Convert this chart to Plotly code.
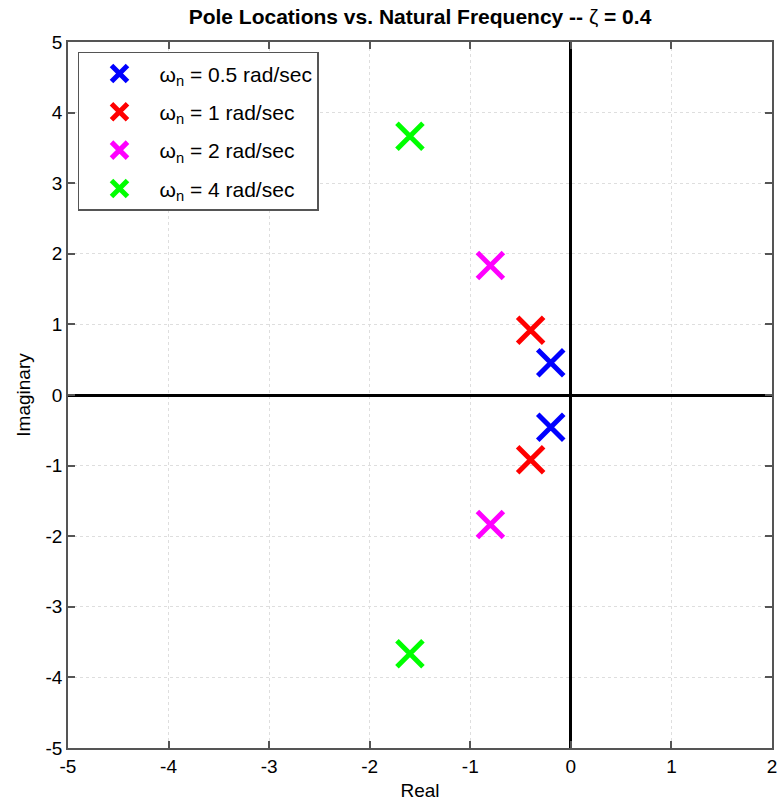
import plotly.graph_objects as go

# Data (zeta = 0.4)
wn_labels = ["0.5", "1", "2", "4"]
pole_real = [-0.2, -0.4, -0.8, -1.6]
pole_imag = [0.458, 0.917, 1.833, 3.666]
colors = ["#0000ff", "#ff0000", "#ff00ff", "#00ff00"]

x_ticks = [-5, -4, -3, -2, -1, 0, 1, 2]
x_ticklabels = ["-5", "-4", "-3", "-2", "-1", "0", "1", "2"]
y_ticks = [-5, -4, -3, -2, -1, 0, 1, 2, 3, 4, 5]
y_ticklabels = ["-5", "-4", "-3", "-2", "-1", "0", "1", "2", "3", "4", "5"]

FONT = "Liberation Sans, Arial, sans-serif"

fig = go.Figure()
for i, (lab, re, im, c) in enumerate(zip(wn_labels, pole_real, pole_imag, colors)):
    fig.add_trace(go.Scatter(
        x=[re, re], y=[im, -im],
        mode="markers",
        name=f"ω<sub>n</sub> = {lab} rad/sec",
        legendgroup=f"g{i}",
        marker=dict(symbol="x-thin", size=26, color=c,
                    line=dict(width=5, color=c)),
    ))

axis_common = dict(
    showline=True, linecolor="#555555", linewidth=1.5, mirror="ticks",
    ticks="inside", ticklen=7, tickcolor="#555555", tickwidth=1.5,
    showgrid=True, gridcolor="#dedede", griddash="dot", gridwidth=1,
    zeroline=True, zerolinecolor="#000000", zerolinewidth=3,
    tickfont=dict(size=19, color="#000000", family=FONT),
    automargin=False,
)

fig.update_xaxes(range=[-5, 2], tickvals=x_ticks, ticktext=x_ticklabels,
                 title=dict(text="Real", font=dict(size=19, color="#000"), standoff=8),
                 **axis_common)
fig.update_yaxes(range=[-5, 5], tickvals=y_ticks, ticktext=y_ticklabels,
                 title=dict(text="Imaginary", font=dict(size=19, color="#000"), standoff=10),
                 **axis_common)

fig.update_layout(
    width=781, height=802,
    margin=dict(l=68, r=9, t=42, b=54, autoexpand=False),
    paper_bgcolor="white", plot_bgcolor="white",
    font=dict(family=FONT, color="#000000"),
    title=dict(text="<b>Pole Locations vs. Natural Frequency -- </b>ζ<b> = 0.4</b>",
               x=(68 + 772) / 2 / 781, xanchor="center", y=1 - 17 / 802, yanchor="middle",
               font=dict(size=21, color="#000")),
    showlegend=True,
    legend=dict(x=0.0142, y=0.986, xanchor="left", yanchor="top",
                bgcolor="white", bordercolor="#555555", borderwidth=1.5,
                font=dict(size=21, color="#000", family=FONT),
                itemwidth=70, tracegroupgap=8),
)

fig.write_html("out.html")
